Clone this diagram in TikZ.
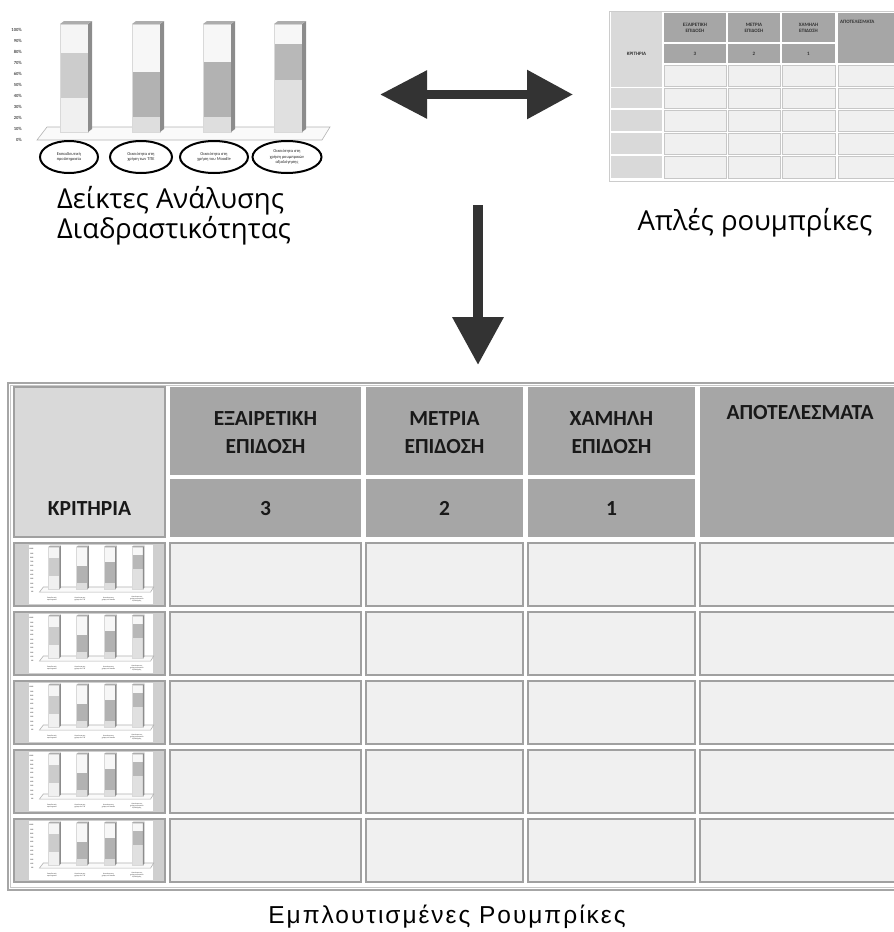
\documentclass[tikz,border=0pt]{standalone}
\usepackage{fontspec}
\setmainfont{Carlito}
\newfontfamily\capfont{Open Sans}
\newfontfamily\titlefont[LetterSpace=8]{Liberation Sans}
\usetikzlibrary{arrows.meta}

\definecolor{arrowgray}{HTML}{333333}
\definecolor{headgray}{HTML}{A6A6A6}
\definecolor{critgray}{HTML}{D9D9D9}
\definecolor{leftgray}{HTML}{CFCFCF}
\definecolor{bodygray}{HTML}{F0F0F0}
\definecolor{rulegray}{HTML}{A0A0A0}

\tikzset{
  axlbl/.style={font=\fontsize{4.6}{5}\selectfont\bfseries, text=black!70, anchor=east, inner sep=0},
  ellbl/.style={font=\fontsize{4.4}{5.4}\selectfont, align=center, inner sep=0, text=black!85},
  ring/.style={draw=black, line width=2},
  cellbody/.style={fill=bodygray, draw=rulegray, line width=1.3},
  cellhead/.style={fill=headgray},
  cellcrit/.style={fill=critgray, draw=rulegray, line width=1.3},
  hdtext/.style={font=\fontsize{21.5}{28}\selectfont\bfseries, align=center, text=black!90, inner sep=0},
  smallhd/.style={font=\fontsize{5}{6}\selectfont\bfseries, align=center, text=black!80, inner sep=0},
  smallbody/.style={fill=bodygray, draw=black!22, line width=0.6},
  captext/.style={font=\capfont\fontsize{27.5}{24}\selectfont, text=black, inner sep=0},
  blockarrow/.style={draw=arrowgray, line width=9}
}

% one stacked column of the 3-D bar chart: x0, two boundaries, three fills (top to bottom)
\newcommand\chartcol[6]{%
  \fill[#4] (#1,24) rectangle ({#1+28},#2);
  \fill[#5] (#1,#2) rectangle ({#1+28},#3);
  \fill[#6] (#1,#3) rectangle ({#1+28},132);
  \draw[black!15, line width=0.4] (#1,24) rectangle ({#1+28},132);
  \fill[black!45] ({#1+28},24) -- ({#1+32},21) -- ({#1+32},129) -- ({#1+28},132) -- cycle;
  \fill[black!32] (#1,24) -- ({#1+4},21) -- ({#1+32},21) -- ({#1+28},24) -- cycle;
}

% axis, floor and the four columns
\newcommand\chartbody{%
  \filldraw[fill=black!2, draw=black!30, line width=0.6]
    (37,140) -- (47,127) -- (330,127) -- (322,140) -- cycle;
  \foreach \p [count=\i from 0] in {0,10,...,100}
    \node[axlbl] (ax\i) at (22,{140-11*\i}) {\p\%};
  \chartcol{60}{53}{98}{black!4}{black!20}{black!6}
  \chartcol{132}{72}{117}{black!3}{black!30}{black!13}
  \chartcol{203}{62}{117}{black!3}{black!30}{black!13}
  \chartcol{274}{44}{80}{black!3}{black!28}{black!12}
}

% category labels under the columns
\newcommand\chartlabels{%
  \node[ellbl] (lb1) at (69,157) {Εκπαιδευτική\\προϋπηρεσία};
  \node[ellbl] (lb2) at (141,157) {Οικειότητα στη\\χρήση των ΤΠΕ};
  \node[ellbl] (lb3) at (214,157) {Οικειότητα στη\\χρήση του Moodle};
  \node[ellbl] (lb4) at (287,157) {Οικειότητα στη\\χρήση ρουμπρικών\\αξιολόγησης};
}

\begin{document}
\begin{tikzpicture}[x=1pt,y=-1pt]
\useasboundingbox (0,0) rectangle (894,932);

% ---------- interaction indicators chart ----------
\chartbody
\foreach \cx/\rx in {69/29,141/31,214/34,287/34.5}
  \draw[ring, fill=white] (\cx,157) ellipse [x radius=\rx, y radius=16];
\chartlabels

\node[captext, align=left, anchor=north west] (indcap) at (57,186)
  {Δείκτες Ανάλυσης\\Διαδραστικότητας};

% ---------- simple rubric ----------
\begin{scope}
\clip (600,0) rectangle (894,200);
\draw[black!20, line width=0.6] (609,11) rectangle (900,181);
\fill[critgray] (611,12) rectangle (662,87);
\node[smallhd] (skrit) at (636.5,54) {ΚΡΙΤΗΡΙΑ};
\foreach \a/\b/\t/\n [count=\k] in {664/726/ΕΞΑΙΡΕΤΙΚΗ/3, 728/780/ΜΕΤΡΙΑ/2, 782/835/ΧΑΜΗΛΗ/1}{
  \fill[headgray] (\a,13) rectangle (\b,42);
  \fill[headgray] (\a,44) rectangle (\b,63);
  \node[smallhd] (sh\k) at ({(\a+\b)/2},27.5) {\t\\ΕΠΙΔΟΣΗ};
  \node[smallhd, anchor=base] (sn\k) at ({(\a+\b)/2},55.5) {\n};
}
\fill[headgray] (838,13) rectangle (900,63);
\node[smallhd, anchor=west] (sres) at (840,22) {ΑΠΟΤΕΛΕΣΜΑΤΑ};
\foreach \t/\b in {65/86,88/108,110/131,133/154,156/178}{
  \foreach \a/\c in {664/726,728/780,782/835,838/900}
    \filldraw[smallbody] (\a,\t) rectangle (\c,\b);
}
\foreach \t/\b in {88/108,110/131,133/154,156/178}
  \fill[critgray] (611,\t) rectangle (662,\b);
\end{scope}

\node[captext] (simplecap) at (755,223) {Απλές ρουμπρίκες};

% ---------- arrows ----------
\coordinate (hl) at (380,94.5);
\coordinate (hr) at (573,94.5);
\draw[blockarrow, {Triangle[length=47pt,width=46pt]}-{Triangle[length=46pt,width=47pt]}] (hl) -- (hr);
\coordinate (vt) at (478,205);
\coordinate (vb) at (478,365);
\draw[blockarrow, line width=10, -{Triangle[length=48pt,width=49pt]}] (vt) -- (vb);

% ---------- enriched rubric ----------
\begin{scope}
\clip (0,370) rectangle (894,900);
\draw[black!35, line width=1.2, fill=white] (8,383) rectangle (905,890);
\draw[black!22, line width=0.6] (10.5,385.5) rectangle (905,887.5);

\filldraw[cellcrit] (14,387) rectangle (165,537);
\node[hdtext, anchor=base] (krit) at (89.5,515) {ΚΡΙΤΗΡΙΑ};

\foreach \a/\b/\t/\n [count=\k] in {170/361/ΕΞΑΙΡΕΤΙΚΗ/3, 366/523/ΜΕΤΡΙΑ/2, 528/695/ΧΑΜΗΛΗ/1}{
  \fill[cellhead] (\a,387) rectangle (\b,475);
  \fill[cellhead] (\a,479) rectangle (\b,537);
  \node[hdtext] (hd\k) at ({(\a+\b)/2},433) {\t\\ΕΠΙΔΟΣΗ};
  \node[hdtext, anchor=base] (num\k) at ({(\a+\b)/2},515) {\n};
}
\fill[cellhead] (700,387) rectangle (905,537);
\node[hdtext] (res) at (800,413) {ΑΠΟΤΕΛΕΣΜΑΤΑ};

\foreach \r in {543,612,681,750,819}{
  \filldraw[fill=leftgray, draw=rulegray, line width=1.3] (14,\r) rectangle (165,\r+63);
  \fill[white] (29,\r+2) rectangle (153,\r+61);
  \begin{scope}[shift={(25,\r-5.5)}, scale=0.39, transform shape]
    \chartbody
    \chartlabels
  \end{scope}
  \foreach \a/\c in {170/361,366/523,528/695,700/905}
    \filldraw[cellbody] (\a,\r) rectangle (\c,\r+63);
}
\end{scope}

\node[font=\titlefont\fontsize{24.5}{24}\selectfont, inner sep=0] (enrcap) at (447,917)
  {Εμπλουτισμένες Ρουμπρίκες};

\end{tikzpicture}
\end{document}
